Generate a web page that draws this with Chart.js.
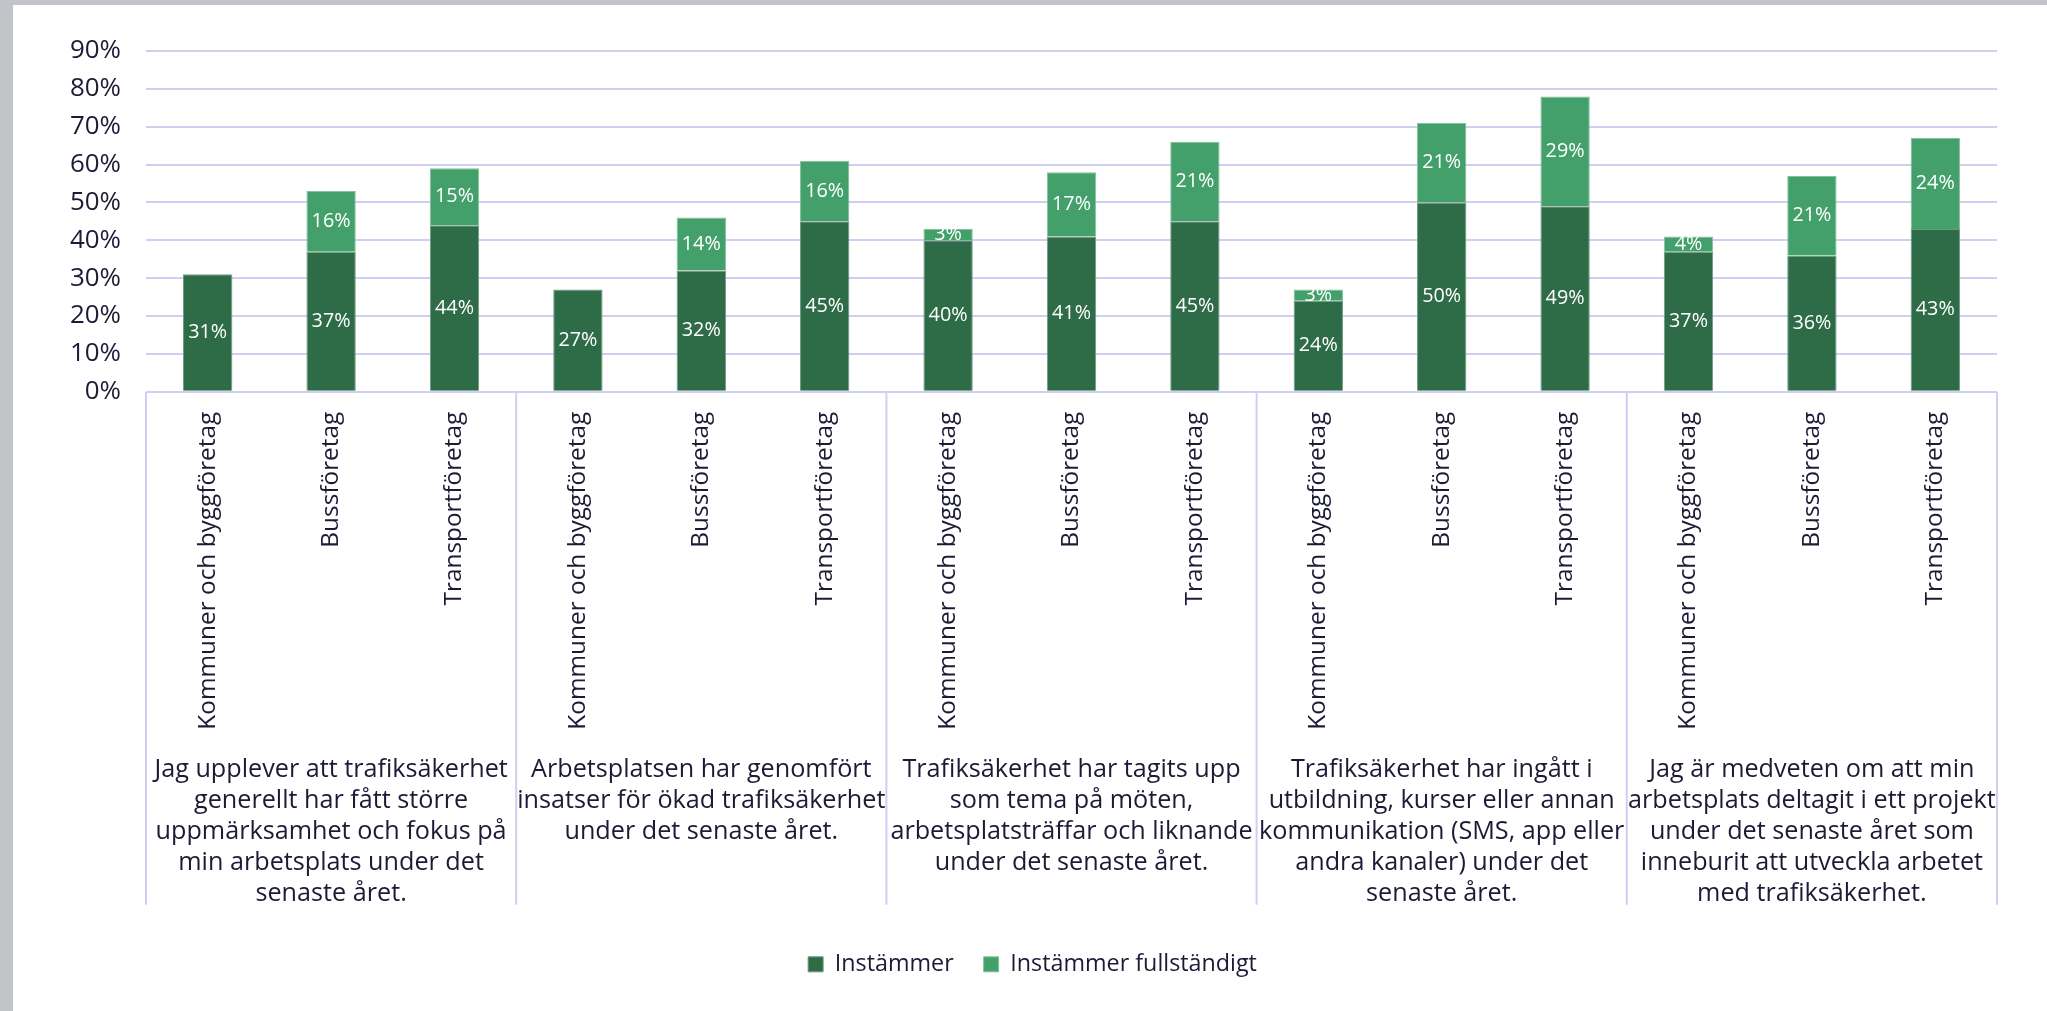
<!DOCTYPE html>
<html>
<head>
<meta charset="utf-8">
<script src="https://cdn.jsdelivr.net/npm/chart.js@4.4.1/dist/chart.umd.min.js"></script>
<style>
  html, body { margin: 0; padding: 0; background: #c3c4c9; }
  #wrap { position: absolute; left: 13px; top: 5px; width: 2034px; height: 1006px; background: #fff; }
</style>
</head>
<body>
<div id="wrap"><canvas id="chart" width="2034" height="1006"></canvas></div>
<script>
// Data
const categories = [
    "Kommuner och byggföretag", "Bussföretag", "Transportföretag",
    "Kommuner och byggföretag", "Bussföretag", "Transportföretag",
    "Kommuner och byggföretag", "Bussföretag", "Transportföretag",
    "Kommuner och byggföretag", "Bussföretag", "Transportföretag",
    "Kommuner och byggföretag", "Bussföretag", "Transportföretag"
];
const groups = [
    ["Jag upplever att trafiksäkerhet", "generellt har fått större", "uppmärksamhet och fokus på", "min arbetsplats under det", "senaste året."],
    ["Arbetsplatsen har genomfört", "insatser för ökad trafiksäkerhet", "under det senaste året."],
    ["Trafiksäkerhet har tagits upp", "som tema på möten,", "arbetsplatsträffar och liknande", "under det senaste året."],
    ["Trafiksäkerhet har ingått i", "utbildning, kurser eller annan", "kommunikation (SMS, app eller", "andra kanaler) under det", "senaste året."],
    ["Jag är medveten om att min", "arbetsplats deltagit i ett projekt", "under det senaste året som", "inneburit att utveckla arbetet", "med trafiksäkerhet."]
];
const instammer = [31, 37, 44, 27, 32, 45, 40, 41, 45, 24, 50, 49, 37, 36, 43];
const instammerFullt = [null, 16, 15, null, 14, 16, 3, 17, 21, 3, 21, 29, 4, 21, 24];
const yTicks = [0, 10, 20, 30, 40, 50, 60, 70, 80, 90];

const gridColor = "#cfcff2";
const textColor = "#1b1b36";
const fontFamily = "Open Sans";

// pick a font size so a sample text gets the width it has in the original
const measureCtx = document.createElement("canvas").getContext("2d");
function fitSize(text, width) {
    measureCtx.font = "100px '" + fontFamily + "'";
    return Math.round(1000 * width / measureCtx.measureText(text).width) / 10;
}
const tickSize = fitSize("90%", 51);
const catSize = fitSize("Kommuner och byggföretag", 318);
const groupSize = fitSize("Jag upplever att trafiksäkerhet", 354);
const legendSize = fitSize("Instämmer", 119);
const valueSize = fitSize("31%", 39);

// White percent labels in the middle of each segment
const barLabels = {
    id: "barLabels",
    afterDatasetsDraw(chart) {
        const ctx = chart.ctx;
        ctx.save();
        ctx.fillStyle = "#ffffff";
        ctx.font = valueSize + "px '" + fontFamily + "'";
        ctx.textAlign = "center";
        ctx.textBaseline = "middle";
        chart.data.datasets.forEach((ds, i) => {
            chart.getDatasetMeta(i).data.forEach((bar, j) => {
                const v = ds.data[j];
                if (v == null) return;
                const p = bar.getProps(["x", "y", "base"], true);
                ctx.fillText(v + "%", p.x, (p.y + p.base) / 2);
            });
        });
        ctx.restore();
    }
};

// Vertical separators between the question groups
const groupLines = {
    id: "groupLines",
    afterDraw(chart) {
        const xs = chart.scales.x;
        const gs = chart.scales.group;
        const area = chart.chartArea;
        const per = categories.length / groups.length;
        const ctx = chart.ctx;
        ctx.save();
        ctx.strokeStyle = gridColor;
        ctx.lineWidth = 2;
        for (let i = 0; i <= groups.length; i++) {
            let px;
            if (i === 0) px = area.left;
            else if (i === groups.length) px = area.right;
            else px = (xs.getPixelForValue(i * per - 1) + xs.getPixelForValue(i * per)) / 2;
            ctx.beginPath();
            ctx.moveTo(px, area.bottom);
            ctx.lineTo(px, gs.top + 158);
            ctx.stroke();
        }
        ctx.restore();
    }
};

new Chart(document.getElementById("chart"), {
    type: "bar",
    data: {
        labels: categories,
        datasets: [
            {
                label: "Instämmer",
                data: instammer,
                backgroundColor: "#2e6b47",
                borderColor: "#6f9a80",
                borderWidth: 1,
                categoryPercentage: 1,
                barPercentage: 0.4
            },
            {
                label: "Instämmer fullständigt",
                data: instammerFullt,
                backgroundColor: "#43a06b",
                borderColor: "#82c29c",
                borderWidth: 1,
                categoryPercentage: 1,
                barPercentage: 0.4
            }
        ]
    },
    options: {
        responsive: false,
        animation: false,
        layout: { padding: { top: 46, right: 50, left: 55, bottom: 25 } },
        plugins: {
            tooltip: { enabled: false },
            legend: {
                position: "bottom",
                labels: {
                    boxWidth: 15,
                    boxHeight: 15,
                    padding: 30,
                    color: textColor,
                    font: { family: fontFamily, size: legendSize }
                }
            }
        },
        scales: {
            x: {
                stacked: true,
                grid: { display: false },
                border: { display: false },
                ticks: {
                    autoSkip: false,
                    minRotation: 90,
                    maxRotation: 90,
                    padding: 12,
                    color: textColor,
                    font: { family: fontFamily, size: catSize }
                },
                afterFit: s => { s.height = 355; }
            },
            group: {
                type: "category",
                axis: "x",
                position: "bottom",
                weight: 1,
                offset: true,
                labels: groups,
                grid: { display: false },
                border: { display: false },
                ticks: {
                    autoSkip: false,
                    maxRotation: 0,
                    padding: 0,
                    color: textColor,
                    font: { family: fontFamily, size: groupSize, lineHeight: "31px" }
                },
                afterFit: s => { s.height = 176; }
            },
            y: {
                stacked: true,
                min: 0,
                max: 90,
                afterBuildTicks: s => { s.ticks = yTicks.map(v => ({ value: v })); },
                grid: { color: gridColor, lineWidth: 2, drawTicks: false },
                border: { display: false },
                ticks: {
                    padding: 25,
                    color: textColor,
                    font: { family: fontFamily, size: tickSize },
                    callback: v => v + "%"
                },
                afterFit: s => { s.width = 78; }
            }
        }
    },
    plugins: [barLabels, groupLines]
});
</script>
</body>
</html>
